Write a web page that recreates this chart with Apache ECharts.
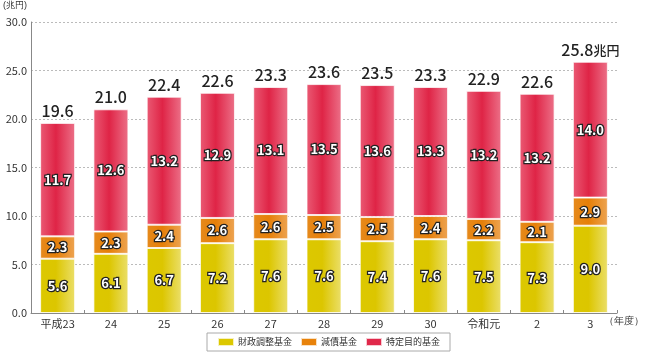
<!DOCTYPE html>
<html lang="ja">
<head>
<meta charset="UTF-8" />
<title>基金残高の推移</title>
<script src="https://cdn.jsdelivr.net/npm/echarts@6/dist/echarts.min.js"></script>
<style>
  html, body { margin: 0; padding: 0; background: #fff; }
  #chart { width: 650px; height: 354px; }
</style>
</head>
<body>
<div id="chart"></div>
<script type="text/javascript">
var years = ['平成23', '24', '25', '26', '27', '28', '29', '30', '令和元', '2', '3'];
var zaisei = [5.6, 6.1, 6.7, 7.2, 7.6, 7.6, 7.4, 7.6, 7.5, 7.3, 9.0];   // 財政調整基金
var gensai = [2.3, 2.3, 2.4, 2.6, 2.6, 2.5, 2.5, 2.4, 2.2, 2.1, 2.9];   // 減債基金
var tokutei = [11.7, 12.6, 13.2, 12.9, 13.1, 13.5, 13.6, 13.3, 13.2, 13.2, 14.0]; // 特定目的基金
var totals = [19.6, 21.0, 22.4, 22.6, 23.3, 23.6, 23.5, 23.3, 22.9, 22.6, 25.8];
var yTicks = [0, 5, 10, 15, 20, 25, 30];

var chart = echarts.init(document.getElementById('chart'));

// 柱の横グラデーション
function grad(light, base, right) {
    return new echarts.graphic.LinearGradient(0, 0, 1, 0, [
        { offset: 0, color: light },
        { offset: 0.45, color: base },
        { offset: 1, color: right }
    ]);
}

var inLabel = {
    show: true,
    position: 'inside',
    color: '#fff',
    fontSize: 13,
    fontWeight: 'bold',
    textBorderColor: '#222',
    textBorderWidth: 2.5,
    formatter: function (p) { return p.value.toFixed(1); }
};

function barSeries(name, data, color) {
    return {
        name: name,
        type: 'bar',
        stack: 'kikin',
        barWidth: 35,
        data: data,
        label: inLabel,
        itemStyle: {
            color: color,
            borderColor: 'rgba(255,255,255,0.75)',
            borderWidth: 1
        },
        emphasis: { disabled: true }
    };
}

var option = {
    animation: false,
    textStyle: { fontFamily: 'Noto Sans CJK JP' },
    grid: { left: 31, right: 33, top: 22, bottom: 41 },
    legend: {
        left: 207,
        top: 333,
        padding: [4, 10, 4, 10],
        itemGap: 8,
        itemWidth: 16,
        itemHeight: 8,
        borderColor: '#aaa',
        borderWidth: 1,
        textStyle: { fontSize: 9, color: '#333', padding: [0, 0, 0, -1] },
        data: [
            { name: '財政調整基金', icon: 'rect', itemStyle: { color: '#dcc800' } },
            { name: '減債基金', icon: 'rect', itemStyle: { color: '#e8820a' } },
            { name: '特定目的基金', icon: 'rect', itemStyle: { color: '#e0284a' } }
        ]
    },
    xAxis: {
        type: 'category',
        data: years,
        axisLine: { lineStyle: { color: '#888' } },
        axisTick: { show: true, inside: true, length: 3, lineStyle: { color: '#888' } },
        axisLabel: { color: '#333', fontSize: 11, margin: 5 }
    },
    yAxis: {
        type: 'value',
        min: 0,
        max: 30,
        interval: 5,
        axisLine: { show: true, lineStyle: { color: '#888' } },
        axisTick: { show: false },
        axisLabel: {
            color: '#333',
            fontSize: 11,
            margin: 4,
            formatter: function (v) { return yTicks.indexOf(v) >= 0 ? v.toFixed(1) : ''; }
        },
        splitLine: { lineStyle: { color: '#bbb', type: [2, 2] } }
    },
    graphic: [
        { type: 'text', left: 3, top: 1, style: { text: '(兆円)', fontSize: 9, fill: '#333' } },
        { type: 'text', left: 604, top: 316, style: { text: '（年度）', fontSize: 10, fill: '#333' } }
    ],
    series: [
        barSeries('財政調整基金', zaisei, grad('#dcc800', '#dcc600', '#ebdf6a')),
        barSeries('減債基金', gensai, grad('#e68a1c', '#e67f08', '#eda452')),
        barSeries('特定目的基金', tokutei, grad('#ea5a74', '#df2446', '#ec7088')),
        {
            name: '合計',
            type: 'bar',
            stack: 'kikin',
            barWidth: 35,
            data: totals.map(function () { return 0; }),
            itemStyle: { color: 'transparent' },
            label: {
                show: true,
                position: 'top',
                distance: 4,
                color: '#222',
                fontSize: 16,
                fontWeight: 500,
                formatter: function (p) {
                    var t = totals[p.dataIndex].toFixed(1);
                    return p.dataIndex === totals.length - 1 ? t + '{u|兆円}' : t;
                },
                rich: { u: { fontSize: 13, fontWeight: 500, color: '#222' } }
            },
            emphasis: { disabled: true }
        }
    ]
};

chart.setOption(option);
</script>
</body>
</html>
